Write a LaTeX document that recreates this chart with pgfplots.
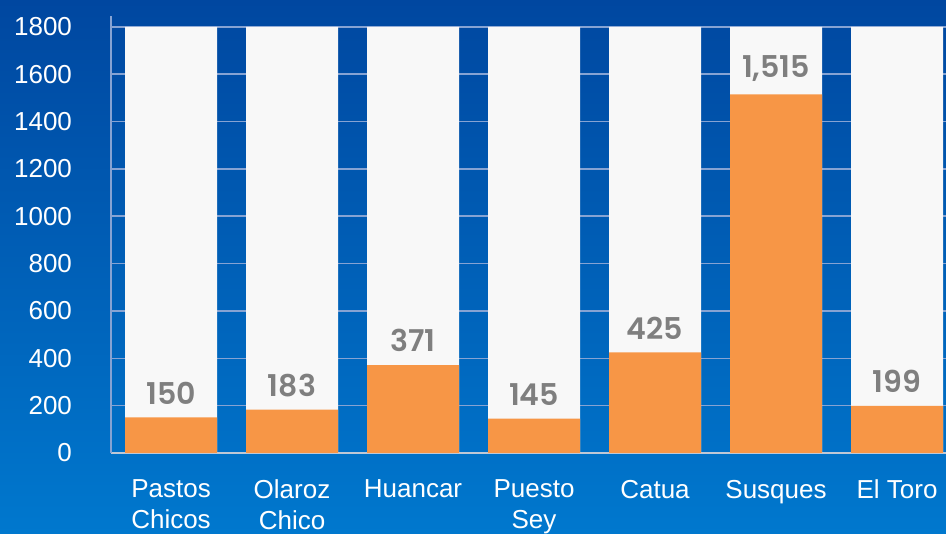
\documentclass[border=0pt]{standalone}
\usepackage{pgfplots}
\pgfplotsset{compat=1.18}
\usepackage{fontspec}
\setmainfont{Liberation Sans}
\newfontfamily\labfont{Poppins}[BoldFont={* SemiBold}]
\definecolor{bgtop}{HTML}{0047A0}
\definecolor{bgbot}{HTML}{0078CE}
\definecolor{barbg}{HTML}{F8F8F8}
\definecolor{barfg}{HTML}{F79646}
\definecolor{labgray}{HTML}{7F7F7F}
\definecolor{gridc}{HTML}{86A3D3}
\definecolor{xaxc}{HTML}{BFC8D6}

\begin{document}
\begin{tikzpicture}
\clip (0,0) rectangle (473pt,267pt);
\shade[top color=bgtop, bottom color=bgbot] (0,0) rectangle (473pt,267pt);
\begin{axis}[
    at={(55.5pt,40.5pt)}, anchor=south west,
    scale only axis,
    width=417.5pt, height=218.5pt,
    xmin=-0.496, xmax=6.405,
    ymin=0, ymax=1846,
    ybar, bar width=46pt,
    axis x line*=bottom,
    axis y line*=left,
    x axis line style={xaxc, line width=0.8pt},
    y axis line style={gridc, line width=0.8pt},
    ymajorgrids,
    major grid style={gridc, line width=0.8pt},
    major tick length=0pt,
    ytick={0,200,...,1800},
    xtick={0,...,6},
    xticklabels={{Pastos\\Chicos},{Olaroz\\Chico},Huancar,{Puesto\\Sey},Catua,Susques,El Toro},
    /pgf/number format/assume math mode=true,
    /pgf/number format/1000 sep={},
    tick label style={white, font=\fontsize{13}{15.5}\selectfont},
    yticklabel style={xshift=-16pt},
    xticklabel style={align=center, yshift=-10pt},
]
\addplot[fill=barbg, draw=none, bar shift=0pt] coordinates {
    (0,1800) (1,1800) (2,1800) (3,1800) (4,1800) (5,1800) (6,1800)
};
\addplot[fill=barfg, draw=none, bar shift=0pt,
    nodes near coords={\pgfmathprintnumber[1000 sep={,}]{\pgfplotspointmeta}},
    nodes near coords style={labgray, font=\labfont\bfseries\fontsize{15}{18}\selectfont, anchor=south, yshift=3pt}
] coordinates {
    (0,150) (1,183) (2,371) (3,145) (4,425) (5,1515) (6,199)
};
\end{axis}
\end{tikzpicture}
\end{document}
